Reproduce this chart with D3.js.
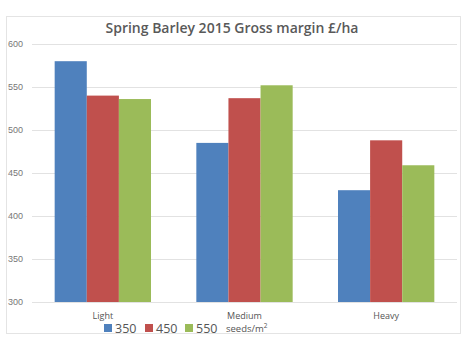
<!DOCTYPE html>
<html><head><meta charset="utf-8">
<script src="https://cdn.jsdelivr.net/npm/d3@7"></script>
<style>body{margin:0;background:#fff}svg{display:block}</style>
</head><body>
<script>
const categories = ["Light", "Medium", "Heavy"];
const seriesNames = ["350", "450", "550"];
const values350 = [580, 485, 430];
const values450 = [540, 537, 488];
const values550 = [536, 552, 459];
const yTicks = [300, 350, 400, 450, 500, 550, 600];
const colors = ["#4F81BD", "#C0504D", "#9BBB59"];
const series = [values350, values450, values550];

const W = 468, H = 354;
const svg = d3.select("body").append("svg").attr("width", W).attr("height", H);
svg.append("rect").attr("x", 6.5).attr("y", 16.5).attr("width", 454).attr("height", 317)
  .attr("fill", "#fff").attr("stroke", "#e4e4e4");

const x0 = d3.scaleBand().domain(categories).range([32, 457]).paddingInner(0.32).paddingOuter(0.16);
const x1 = d3.scaleBand().domain(seriesNames).range([0, x0.bandwidth()]);
const y = d3.scaleLinear().domain([300, 600]).range([302, 44]);

svg.append("g").selectAll("line").data(yTicks).join("line")
  .attr("x1", 32).attr("x2", 457).attr("y1", d => y(d) + 0.5).attr("y2", d => y(d) + 0.5)
  .attr("stroke", "#e2e2e2");
svg.append("g").selectAll("text").data(yTicks).join("text")
  .attr("x", 8).attr("y", d => y(d) + 3).text(d => d)
  .attr("font-family", "Liberation Sans, Arial, sans-serif").attr("font-size", 9).attr("fill", "#777");

series.forEach((vals, si) => {
  svg.append("g").selectAll("rect").data(vals).join("rect")
    .attr("x", (d, i) => x0(categories[i]) + x1(seriesNames[si]))
    .attr("width", x1.bandwidth())
    .attr("y", d => y(d)).attr("height", d => y(300) - y(d))
    .attr("fill", colors[si]);
});

svg.append("g").selectAll("text").data(categories).join("text")
  .attr("x", d => x0(d) + x0.bandwidth() / 2).attr("y", 319).attr("text-anchor", "middle")
  .text(d => d).attr("font-family", "Open Sans, sans-serif").attr("font-size", 9).attr("fill", "#555");

svg.append("text").attr("x", 232).attr("y", 33).attr("text-anchor", "middle")
  .attr("font-family", "Open Sans, sans-serif").attr("font-size", 14).attr("font-weight", 600)
  .attr("fill", "#595959").text("Spring Barley 2015 Gross margin £/ha");

const lg = svg.append("g");
const legX = [104, 145, 185];
seriesNames.forEach((s, i) => {
  lg.append("rect").attr("x", legX[i]).attr("y", 324).attr("width", 8).attr("height", 8).attr("fill", colors[i]);
  lg.append("text").attr("x", legX[i] + 11).attr("y", 333).text(s)
    .attr("font-family", "Open Sans, sans-serif").attr("font-size", 12.5).attr("fill", "#555");
});
const st = lg.append("text").attr("x", 226).attr("y", 332)
  .attr("font-family", "Open Sans, sans-serif").attr("font-size", 9.5).attr("fill", "#555");
st.append("tspan").text("seeds/m");
st.append("tspan").attr("dy", -4).attr("font-size", 6.5).text("2");
</script>
</body></html>
